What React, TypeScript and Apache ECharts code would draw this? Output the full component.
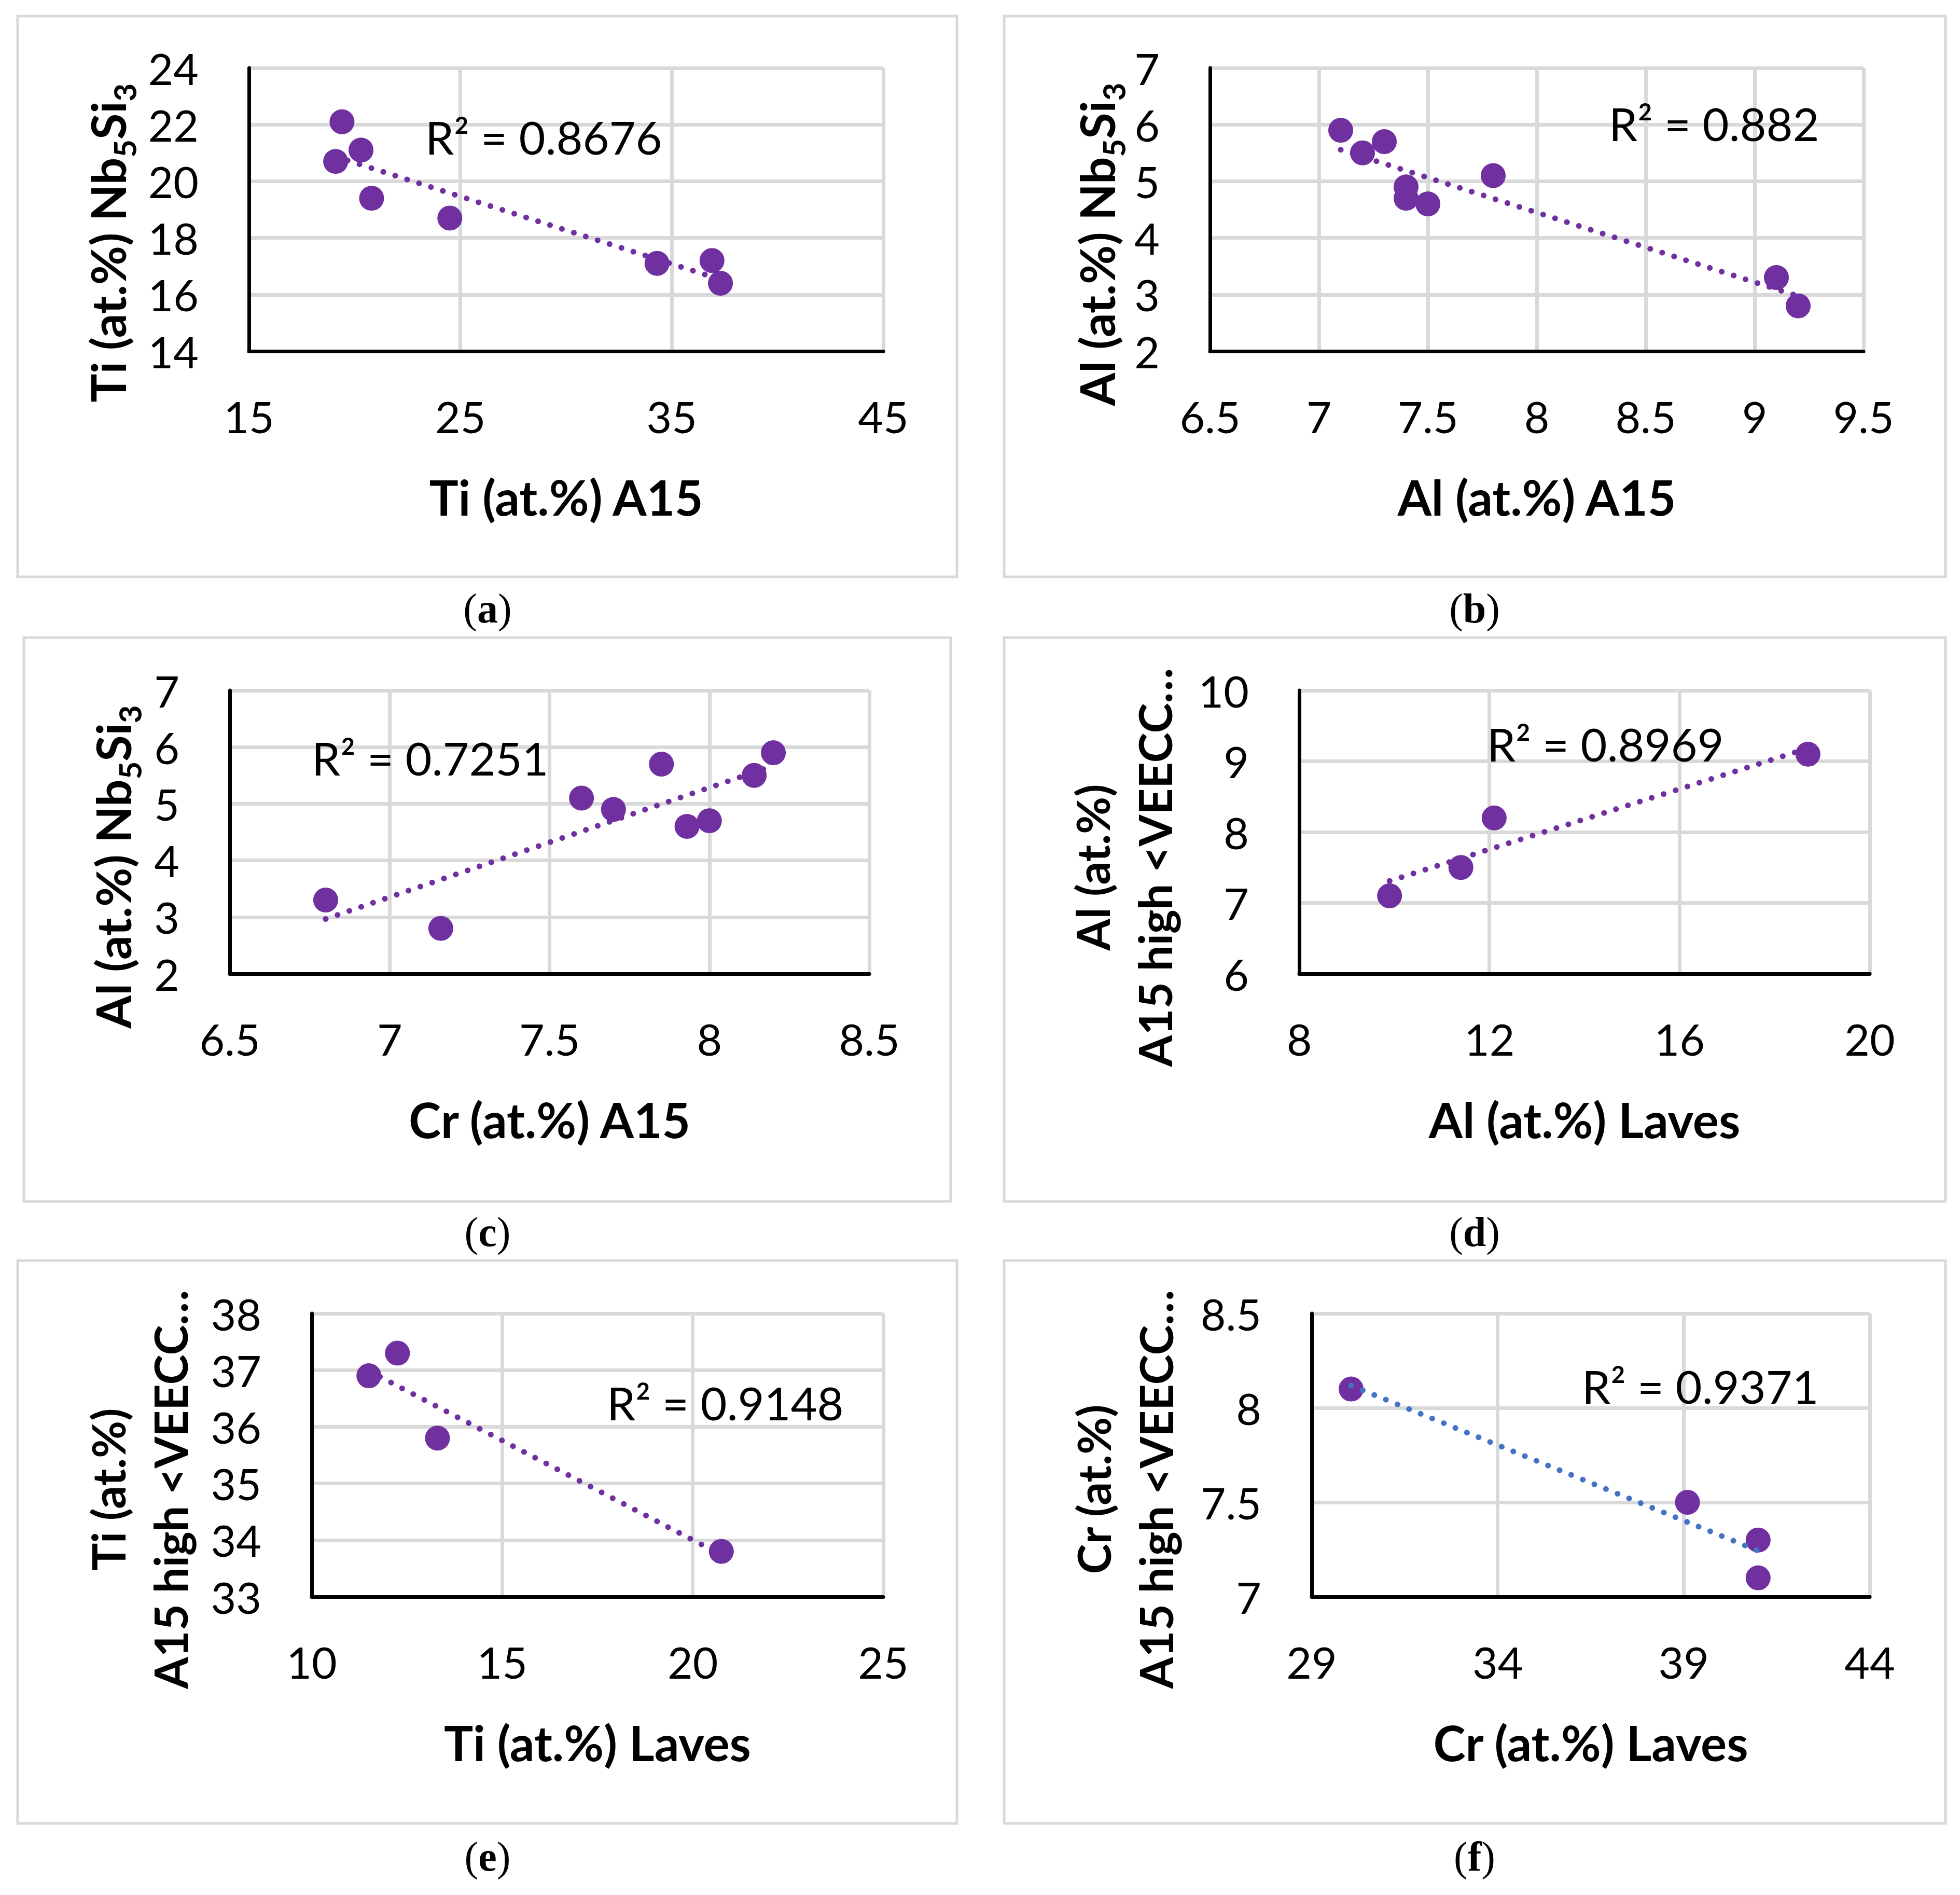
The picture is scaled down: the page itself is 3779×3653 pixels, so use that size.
import React, { useEffect, useRef } from "react";
import * as echarts from "echarts";

const W = 3779;
const H = 3653;
const PURPLE = "#7030A0";
const BLUE = "#4472C4";
const GRIDC = "#D9D9D9";
const SANS = "Lato, 'Open Sans', sans-serif";
const SERIF = "'Liberation Serif', 'DejaVu Serif', serif";

// ---------- data ----------
// (a) Ti A15 vs Ti Nb5Si3
const aX = [19.4, 20.3, 19.1, 20.8, 24.5, 34.3, 36.9, 37.3];
const aY = [22.1, 21.1, 20.7, 19.4, 18.7, 17.1, 17.2, 16.4];
// (b) Al A15 vs Al Nb5Si3
const bX = [7.1, 7.2, 7.3, 7.4, 7.4, 7.5, 7.8, 9.1, 9.2];
const bY = [5.9, 5.5, 5.7, 4.9, 4.7, 4.6, 5.1, 3.3, 2.8];
// (c) Cr A15 vs Al Nb5Si3
const cX = [6.8, 7.16, 7.6, 7.7, 7.85, 7.93, 8.0, 8.14, 8.2];
const cY = [3.3, 2.8, 5.1, 4.9, 5.7, 4.6, 4.7, 5.5, 5.9];
// (d) Al Laves vs Al A15 high VEC
const dX = [9.9, 11.4, 12.1, 18.7];
const dY = [7.1, 7.5, 8.2, 9.1];
// (e) Ti Laves vs Ti A15 high VEC
const eX = [11.5, 12.25, 13.3, 20.75];
const eY = [36.9, 37.3, 35.8, 33.8];
// (f) Cr Laves vs Cr A15 high VEC
const fX = [30.06, 39.1, 41.0, 41.0];
const fY = [8.1, 7.5, 7.3, 7.1];

// tick labels
const aXTicks = [15, 25, 35, 45];
const aYTicks = [14, 16, 18, 20, 22, 24];
const bXTicks = [6.5, 7, 7.5, 8, 8.5, 9, 9.5];
const bYTicks = [2, 3, 4, 5, 6, 7];
const cXTicks = [6.5, 7, 7.5, 8, 8.5];
const cYTicks = [2, 3, 4, 5, 6, 7];
const dXTicks = [8, 12, 16, 20];
const dYTicks = [6, 7, 8, 9, 10];
const eXTicks = [10, 15, 20, 25];
const eYTicks = [33, 34, 35, 36, 37, 38];
const fXTicks = [29, 34, 39, 44];
const fYTicks = [7, 7.5, 8, 8.5];

// texts
const r2Labels = ["R² = 0.8676", "R² = 0.882", "R² = 0.7251", "R² = 0.8969", "R² = 0.9148", "R² = 0.9371"];
const xTitles = ["Ti (at.%) A15", "Al (at.%) A15", "Cr (at.%) A15", "Al (at.%) Laves", "Ti (at.%) Laves", "Cr (at.%) Laves"];
const yTitles = [
  "Ti (at.%) Nb{sub|5}Si{sub|3}",
  "Al (at.%) Nb{sub|5}Si{sub|3}",
  "Al (at.%) Nb{sub|5}Si{sub|3}",
  "Al (at.%)\nA15 high <VEECC…",
  "Ti (at.%)\nA15 high <VEECC…",
  "Cr (at.%)\nA15 high <VEECC…",
];
const captions = ["a", "b", "c", "d", "e", "f"];

// ---------- layout ----------
const panels = [
  { xs: aX, ys: aY, xt: aXTicks, yt: aYTicks, trend: PURPLE, grid: [480, 131, 1703, 677], frame: [34, 31, 1845, 1112], r2: [820, 264], yTitle: [207, 468], cap: [940, 1173], xTitleY: 957, custom: false },
  { xs: bX, ys: bY, xt: bXTicks, yt: bYTicks, trend: PURPLE, grid: [2333, 131, 3593, 677], frame: [1936, 31, 3751, 1112], r2: [3102, 238], yTitle: [2114, 471], cap: [2843, 1173], xTitleY: 957, custom: false },
  { xs: cX, ys: cY, xt: cXTicks, yt: cYTicks, trend: PURPLE, grid: [443, 1331, 1676, 1877], frame: [46, 1229, 1833, 2316], r2: [601, 1461], yTitle: [217, 1671], cap: [940, 2375], xTitleY: 2157, custom: false },
  { xs: dX, ys: dY, xt: dXTicks, yt: dYTicks, trend: PURPLE, grid: [2505, 1331, 3605, 1877], frame: [1936, 1229, 3751, 2316], r2: [2867, 1434], yTitle: [2166, 1672], cap: [2843, 2375], xTitleY: 2157, custom: false },
  { xs: eX, ys: eY, xt: eXTicks, yt: eYTicks, trend: PURPLE, grid: [601, 2532, 1703, 3078], frame: [34, 2430, 1845, 3515], r2: [1170, 2704], yTitle: [268, 2871], cap: [940, 3579], xTitleY: 3358, custom: false },
  { xs: fX, ys: fY, xt: fXTicks, yt: fYTicks, trend: BLUE, grid: [2529, 2532, 3605, 3078], frame: [1936, 2430, 3751, 3515], r2: [3050, 2672], yTitle: [2168, 2871], cap: [2843, 3579], xTitleY: 3358, custom: true },
];

function linearFit(xs: number[], ys: number[]) {
  const n = xs.length;
  const mx = xs.reduce((s, v) => s + v, 0) / n;
  const my = ys.reduce((s, v) => s + v, 0) / n;
  let sxy = 0;
  let sxx = 0;
  for (let i = 0; i < n; i++) {
    sxy += (xs[i] - mx) * (ys[i] - my);
    sxx += (xs[i] - mx) * (xs[i] - mx);
  }
  const m = sxy / sxx;
  const b = my - m * mx;
  const x0 = Math.min(...xs);
  const x1 = Math.max(...xs);
  return [
    [x0, b + m * x0],
    [x1, b + m * x1],
  ];
}

function buildOption() {
  const grid: any[] = [];
  const xAxis: any[] = [];
  const yAxis: any[] = [];
  const series: any[] = [];
  const graphic: any[] = [];

  const axisCommon = (margin: number) => ({
    type: "value",
    axisLine: { show: true, onZero: false, lineStyle: { color: "#000", width: 7 } },
    axisTick: { show: false },
    splitLine: { show: true, showMinLine: false, lineStyle: { color: GRIDC, width: 7 } },
    axisLabel: {
      margin,
      fontSize: 84,
      color: "#000",
      fontFamily: SANS,
      showMinLabel: true,
      showMaxLabel: true,
    },
  });

  panels.forEach((p, i) => {
    const [l, t, r, b] = p.grid;
    grid.push({ left: l, top: t, width: r - l, height: b - t, containLabel: false });

    const xa: any = axisCommon(83);
    xa.gridIndex = i;
    xa.min = p.xt[0];
    xa.max = p.xt[p.xt.length - 1];
    if (p.custom) {
      xa.axisLabel = { ...xa.axisLabel, customValues: p.xt };
      xa.axisTick = { show: false, customValues: p.xt };
    } else {
      xa.interval = p.xt[1] - p.xt[0];
    }
    xAxis.push(xa);

    const ya: any = axisCommon(97);
    ya.gridIndex = i;
    ya.min = p.yt[0];
    ya.max = p.yt[p.yt.length - 1];
    ya.interval = p.yt[1] - p.yt[0];
    yAxis.push(ya);

    series.push({
      type: "scatter",
      xAxisIndex: i,
      yAxisIndex: i,
      data: p.xs.map((x, k) => [x, p.ys[k]]),
      symbol: "circle",
      symbolSize: 48,
      itemStyle: { color: PURPLE, opacity: 1 },
      z: 2,
      silent: true,
    });
    series.push({
      type: "line",
      xAxisIndex: i,
      yAxisIndex: i,
      data: linearFit(p.xs, p.ys),
      symbol: "none",
      showSymbol: false,
      lineStyle: { color: p.trend, width: 11, type: [0.1, 24], cap: "round", opacity: 1 },
      z: 3,
      silent: true,
    });

    const [fl, ft, fr, fb] = p.frame;
    graphic.push({
      type: "rect",
      shape: { x: fl, y: ft, width: fr - fl, height: fb - ft },
      style: { fill: "none", stroke: GRIDC, lineWidth: 5 },
      z: -10,
      silent: true,
    });

    graphic.push({
      type: "text",
      x: p.r2[0],
      y: p.r2[1],
      style: {
        text: r2Labels[i],
        fontSize: 88,
        fontFamily: SANS,
        fill: "#000",
        align: "left",
        verticalAlign: "middle",
      },
      z: 10,
      silent: true,
    });

    graphic.push({
      type: "text",
      x: (l + r) / 2,
      y: p.xTitleY,
      style: {
        text: xTitles[i],
        fontSize: 94,
        fontWeight: "bold",
        fontFamily: SANS,
        fill: "#000",
        align: "center",
        verticalAlign: "middle",
      },
      z: 10,
      silent: true,
    });

    const twoLine = yTitles[i].indexOf("\n") >= 0;
    graphic.push({
      type: "text",
      x: p.yTitle[0],
      y: p.yTitle[1],
      rotation: Math.PI / 2,
      style: {
        text: yTitles[i],
        fontSize: twoLine ? 88 : 92,
        fontWeight: "bold",
        fontFamily: SANS,
        fill: "#000",
        align: "center",
        verticalAlign: "middle",
        lineHeight: twoLine ? 120 : 92,
        rich: {
          sub: {
            fontSize: 60,
            fontWeight: "bold",
            fontFamily: SANS,
            fill: "#000",
            padding: [66, 0, 0, 0],
          },
        },
      },
      z: 10,
      silent: true,
    });

    graphic.push({
      type: "text",
      x: p.cap[0],
      y: p.cap[1],
      style: {
        text: "{p|(}{b|" + captions[i] + "}{p|)}",
        fontSize: 80,
        fontFamily: SERIF,
        fill: "#000",
        align: "center",
        verticalAlign: "middle",
        rich: {
          p: { fontSize: 80, fontFamily: SERIF, fill: "#000" },
          b: { fontSize: 80, fontFamily: SERIF, fontWeight: "bold", fill: "#000" },
        },
      },
      z: 10,
      silent: true,
    });
  });

  return {
    animation: false,
    backgroundColor: "#ffffff",
    grid,
    xAxis,
    yAxis,
    series,
    graphic: { elements: graphic },
  };
}

export default function App() {
  const ref = useRef<HTMLDivElement>(null);
  useEffect(() => {
    if (!ref.current) return;
    const chart = echarts.init(ref.current, undefined, { renderer: "svg", width: W, height: H });
    chart.setOption(buildOption() as any);
    return () => {
      chart.dispose();
    };
  }, []);
  return (
    <div
      ref={ref}
      style={{ position: "absolute", left: 0, top: 0, width: W, height: H, background: "#fff" }}
    />
  );
}
